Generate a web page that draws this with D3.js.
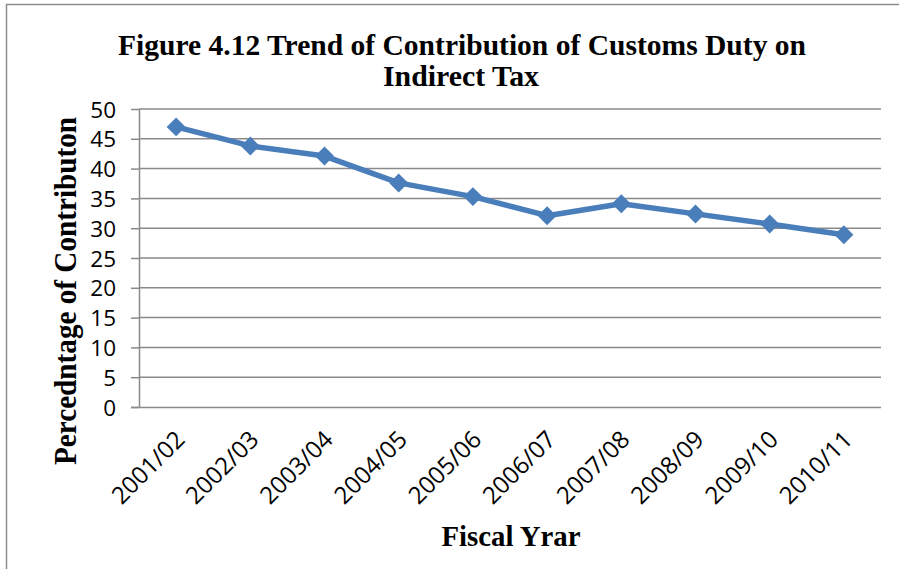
<!DOCTYPE html>
<html>
<head>
<meta charset="utf-8">
<script src="https://cdn.jsdelivr.net/npm/d3@7"></script>
<style>
  html, body { margin: 0; padding: 0; background: #fff; }
  svg { display: block; }
</style>
</head>
<body>
<svg id="chart" width="899" height="569"></svg>
<script>
// Share of customs duty in total indirect tax, by fiscal year (%)
const fiscalYears = ["2001/02", "2002/03", "2003/04", "2004/05", "2005/06",
                     "2006/07", "2007/08", "2008/09", "2009/10", "2010/11"];
const customsShare = [47.0, 43.8, 42.1, 37.6, 35.3, 32.1, 34.1, 32.4, 30.7, 28.9];
const yTicks = [0, 5, 10, 15, 20, 25, 30, 35, 40, 45, 50];

const titleLines = ["Figure 4.12 Trend of Contribution of Customs Duty on", "Indirect Tax"];
const xTitle = "Fiscal Yrar";
const yTitle = "Percedntage of Contributon";

const svg = d3.select("#chart");
const W = 899, H = 569;
const plot = { left: 139, right: 881, top: 109, bottom: 407 };

const serif = "'Liberation Serif', 'Times New Roman', serif";
const sans = "'Open Sans', Lato, sans-serif";
const lineBlue = "#4a7ebb";
const gridGrey = "#8a8a8a";

svg.append("rect").attr("width", W).attr("height", H).attr("fill", "#fff");

// chart frame (runs off the right and bottom edges)
svg.append("rect")
  .attr("x", 6.5).attr("y", 4.5)
  .attr("width", 1000).attr("height", 1000)
  .attr("fill", "none").attr("stroke", "#8c8c8c").attr("stroke-width", 1.5);

const x = d3.scaleBand().domain(fiscalYears).range([plot.left, plot.right]).padding(0);
const y = d3.scaleLinear().domain([0, 50]).range([plot.bottom, plot.top]);

// title
const title = svg.append("g").attr("font-family", serif).attr("font-weight", "bold")
  .attr("font-size", 29).attr("fill", "#000").attr("text-anchor", "middle");
title.append("text").attr("x", 462).attr("y", 55)
  .attr("textLength", 688).attr("lengthAdjust", "spacingAndGlyphs").text(titleLines[0]);
title.append("text").attr("x", 461).attr("y", 86)
  .attr("textLength", 156).attr("lengthAdjust", "spacingAndGlyphs").text(titleLines[1]);

// horizontal gridlines
svg.append("g")
  .selectAll("line").data(yTicks.filter(d => d > 0)).join("line")
  .attr("x1", plot.left).attr("x2", plot.right)
  .attr("y1", d => y(d)).attr("y2", d => y(d))
  .attr("stroke", gridGrey).attr("stroke-width", 1.5);

// y axis with outward ticks
const yAxis = svg.append("g")
  .attr("transform", `translate(${plot.left},0)`)
  .call(d3.axisLeft(y).tickValues(yTicks).tickSize(8).tickPadding(15).tickSizeOuter(0));
yAxis.select(".domain").attr("stroke", gridGrey).attr("stroke-width", 1.5);
yAxis.selectAll(".tick line").attr("stroke", gridGrey).attr("stroke-width", 1.5);
yAxis.selectAll(".tick text")
  .attr("font-family", sans).attr("font-size", 22.5).attr("fill", "#000")
  .attr("dy", "0.36em");

// x axis baseline and rotated category labels
const xAxis = svg.append("g")
  .attr("transform", `translate(0,${plot.bottom})`)
  .call(d3.axisBottom(x).tickSize(0).tickSizeOuter(0).tickPadding(0));
xAxis.select(".domain").attr("stroke", gridGrey).attr("stroke-width", 1.5)
  .attr("d", `M${plot.left - 8},0.5H${plot.right}`);
xAxis.selectAll(".tick text")
  .attr("font-family", sans).attr("font-size", 24).attr("fill", "#000")
  .attr("text-anchor", "end")
  .attr("dy", 0).attr("y", 0)
  .attr("transform", "translate(10,34) rotate(-45)");

// data line
const lineGen = d3.line()
  .x((d, i) => x(fiscalYears[i]) + x.bandwidth() / 2)
  .y(d => y(d));
svg.append("path")
  .datum(customsShare)
  .attr("d", lineGen)
  .attr("fill", "none").attr("stroke", lineBlue)
  .attr("stroke-width", 5.5).attr("stroke-linejoin", "round");

// diamond markers
const diamond = d3.symbol().type(d3.symbolSquare).size(180);
svg.append("g")
  .selectAll("path").data(customsShare).join("path")
  .attr("d", diamond)
  .attr("transform", (d, i) =>
    `translate(${x(fiscalYears[i]) + x.bandwidth() / 2},${y(d)}) rotate(45)`)
  .attr("fill", lineBlue);

// axis titles
svg.append("text")
  .attr("x", 511).attr("y", 546)
  .attr("text-anchor", "middle")
  .attr("font-family", serif).attr("font-weight", "bold").attr("font-size", 29)
  .attr("textLength", 139).attr("lengthAdjust", "spacingAndGlyphs")
  .text(xTitle);

svg.append("text")
  .attr("transform", "translate(76,291) rotate(-90)")
  .attr("text-anchor", "middle")
  .attr("font-family", serif).attr("font-weight", "bold").attr("font-size", 31)
  .attr("textLength", 348).attr("lengthAdjust", "spacingAndGlyphs")
  .text(yTitle);
</script>
</body>
</html>
